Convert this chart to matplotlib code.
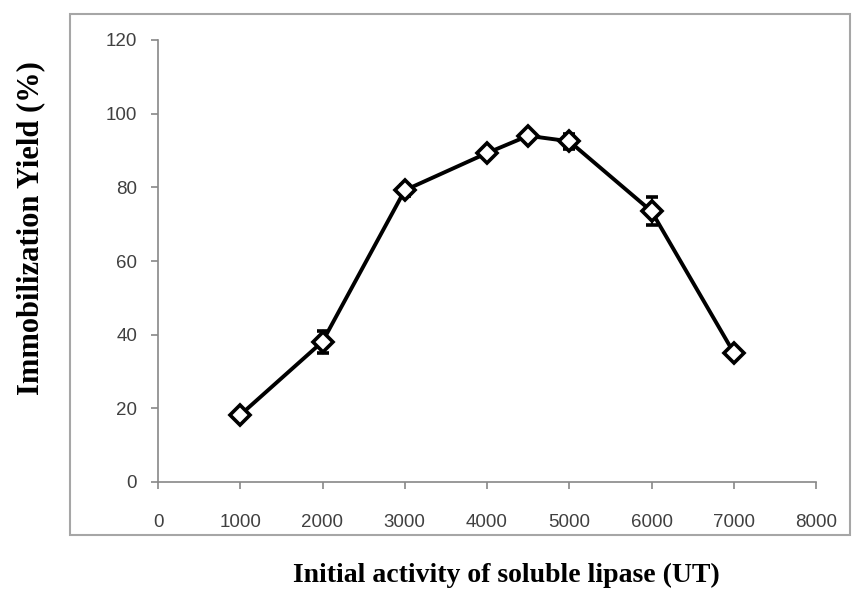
import numpy as np
import matplotlib.pyplot as plt
from matplotlib.patches import Rectangle

activity = [1000, 2000, 3000, 4000, 4500, 5000, 6000, 7000]
yield_pct = [18.2, 38.1, 79.2, 89.3, 94.0, 92.5, 73.5, 35.1]
yield_err = [1.0, 3.0, 1.5, 1.0, 1.0, 2.0, 3.8, 1.0]

xticks = [0, 1000, 2000, 3000, 4000, 5000, 6000, 7000, 8000]
yticks = [0, 20, 40, 60, 80, 100, 120]

fig = plt.figure(figsize=(8.57, 5.91), dpi=100)
ax = fig.add_axes([158/857, 109/591, 658/857, 442/591])

# light grey frame round the plot area (excel style)
fig.patches.append(Rectangle((70/857, 56/591), 780/857, 521/591, transform=fig.transFigure,
                             fill=False, edgecolor='#a6a6a6', linewidth=1.5))

ax.errorbar(activity, yield_pct, yerr=yield_err, color='black', linewidth=2.8,
            marker='D', markersize=10, markerfacecolor='white', markeredgecolor='black',
            markeredgewidth=2.6, ecolor='black', elinewidth=1.5, capsize=4, capthick=1.5)

ax.set_xlim(0, 8000)
ax.set_ylim(0, 120)
ax.set_xticks(xticks)
ax.set_yticks(yticks)

for s in ['top', 'right']:
    ax.spines[s].set_visible(False)
for s in ['left', 'bottom']:
    ax.spines[s].set_color('#888888')
    ax.spines[s].set_linewidth(1.2)

ax.tick_params(axis='both', direction='out', length=5, width=1.2, color='#888888',
               labelcolor='#404040', labelsize=13.5)
ax.tick_params(axis='x', pad=18)
ax.tick_params(axis='y', pad=10)
for lab in ax.get_xticklabels() + ax.get_yticklabels():
    lab.set_fontfamily('Liberation Sans')

fig.text(31/857, 1 - 228/591, 'Immobilization Yield (%)', rotation=90, ha='center', va='center',
         fontsize=22, fontweight='bold', family='Liberation Serif')
fig.text(506/857, 1 - 575/591, 'Initial activity of soluble lipase (UT)', ha='center', va='center',
         fontsize=20, fontweight='bold', family='Liberation Serif')

plt.savefig('out.png', dpi=100)
